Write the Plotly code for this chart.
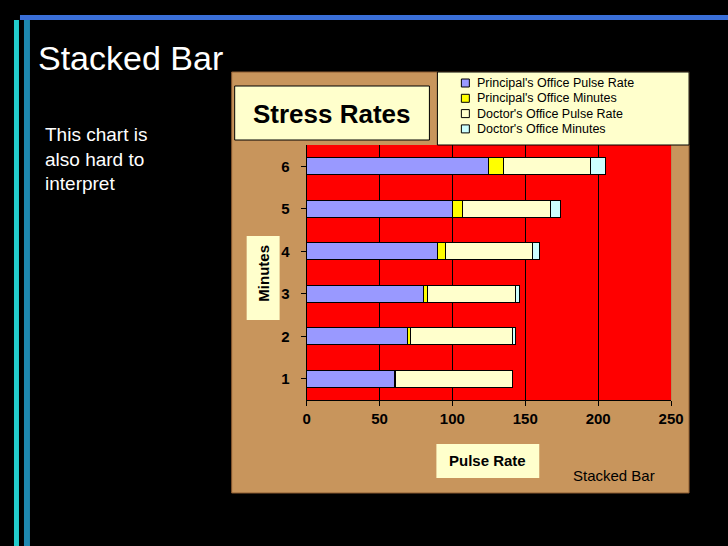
import plotly.graph_objects as go

minutes = [1, 2, 3, 4, 5, 6]
principal_pulse = [60, 69, 80, 90, 100, 125]
principal_minutes = [1, 2, 3, 5, 7, 10]
doctor_pulse = [80, 70, 60, 60, 60, 60]
doctor_minutes = [0, 2, 3, 5, 7, 10]

series = [
    ("Principal's Office Pulse Rate", principal_pulse, "#9999ff"),
    ("Principal's Office Minutes", principal_minutes, "#ffff00"),
    ("Doctor's Office Pulse Rate", doctor_pulse, "#ffffcc"),
    ("Doctor's Office Minutes", doctor_minutes, "#ccffff"),
]

W, H = 728, 546
# compensate for horizontal scaling observed in the viewer
def px(x): return ((x - 4) / 0.978) / W
def py(y): return 1 - y / H

fig = go.Figure()
for name, vals, col in series:
    fig.add_trace(go.Bar(y=minutes, x=vals, name=name, orientation="h", showlegend=False,
                         marker=dict(color=col, line=dict(color="black", width=1))))

WOOD = "#c8955c"
def rect(x0, x1, y0, y1, fill, line=None, layer="below"):
    return dict(type="rect", xref="paper", yref="paper", x0=px(x0), x1=px(x1), y0=py(y1), y1=py(y0),
                fillcolor=fill, line=line or dict(width=0), layer=layer)

PL, PR, PT, PB = 307, 672, 145, 400
shapes = [
    rect(232, 690, 72, PT, WOOD),
    rect(232, 690, PB, 493, WOOD),
    rect(232, PL, PT, PB, WOOD),
    rect(PR, 690, PT, PB, WOOD),
    rect(232, 690, 72, 493, "rgba(0,0,0,0)", dict(color="#8a5a30", width=1)),
    rect(14, 19, 20, 546, "#22cccc"),
    rect(24, 30, 20, 546, "#1e88b0"),
    rect(20, 740, 15, 20, "#3a6fd8"),
    rect(235, 430, 86, 140, "#ffffcc", dict(color="black", width=1)),
    rect(438, 690, 72, 145, "#ffffcc", dict(color="black", width=1), layer="above"),
    rect(247, 280, 236, 320, "#ffffcc"),
    rect(437, 540, 444, 478, "#ffffcc"),
]

F = "Liberation Sans, Arial"
def ann(text, x, y, size, color="black", **kw):
    d = dict(text=text, x=px(x), y=py(y), xref="paper", yref="paper", showarrow=False,
             xanchor="center", yanchor="middle", font=dict(family=F, size=size, color=color))
    d.update(kw)
    return d

annotations = [
    ann("Stacked Bar", 36, 58, 34, "white", xanchor="left"),
    ann("This chart is<br>also hard to<br>interpret", 43, 122, 19, "white",
        xanchor="left", yanchor="top", align="left"),
    ann("<b>Stress Rates</b>", 332, 114, 26),
    ann("<b>Minutes</b>", 263, 273, 15, textangle=-90),
    ann("<b>Pulse Rate</b>", 488, 460, 15),
    ann("Stacked Bar", 615, 475, 15),
]

for i, (name, vals, col) in enumerate(series):
    yc = 83 + i * 15.3
    shapes.append(rect(462, 470, yc - 4, yc + 4, col, dict(color="black", width=1), layer="above"))
    annotations.append(ann(name, 476, yc, 12.5, xanchor="left"))

fig.update_layout(
    width=W, height=H, barmode="stack", bargap=0.6,
    paper_bgcolor="black", plot_bgcolor="#ff0000",
    margin=dict(l=0, r=0, t=0, b=0),
    font=dict(family=F, color="black"),
    shapes=shapes, annotations=annotations,
    xaxis=dict(domain=[px(PL), px(PR)], range=[0, 250], dtick=50, showgrid=True, gridcolor="black",
               gridwidth=1, zeroline=False, ticks="outside", ticklen=5, tickcolor="black",
               showline=True, linecolor="black",
               tickfont=dict(size=15, color="black", family=F),
               tickprefix="<b>", ticksuffix="</b>"),
    yaxis=dict(domain=[py(PB), py(PT)], range=[0.5, 6.5], tickvals=minutes,
               ticktext=[f"<b>{m}</b>" for m in minutes], ticklabelstandoff=8, showgrid=False,
               zeroline=False, showline=True, linecolor="black", ticks="outside", ticklen=5,
               tickcolor="black", tickfont=dict(size=15, color="black", family=F)),
)
fig.write_html("out.html", config={"displayModeBar": False},
               post_script="document.body.style.margin='0';document.body.style.overflow='hidden';")
